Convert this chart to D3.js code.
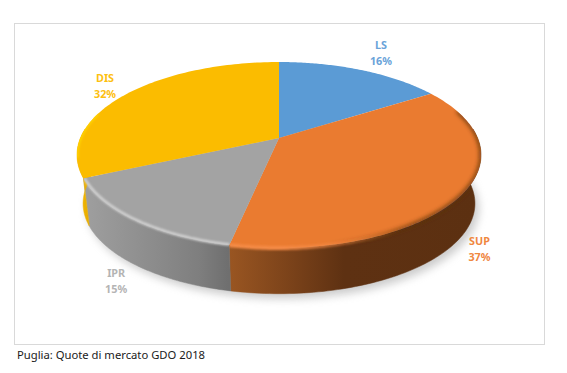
<!DOCTYPE html>
<html>
<head>
<meta charset="utf-8">
<script src="https://cdn.jsdelivr.net/npm/d3@7"></script>
<style>
  html, body { margin: 0; padding: 0; background: #fff; }
  svg { display: block; }
</style>
</head>
<body>
<div id="chart"></div>
<script>
const categories = ["LS", "SUP", "IPR", "DIS"];
const shares = [15.9, 37.4, 14.9, 31.8];
const sliceColors = ["#5b9bd5", "#ea7b30", "#a3a3a3", "#fbbc00"];
const labelColors = ["#6aa3d9", "#f0873f", "#b4b4b4", "#fdc010"];
const captionText = "Puglia: Quote di mercato GDO 2018";

const width = 567;
const height = 373;

// pie seen in perspective: the centre sits above the middle of the ellipse
const apex = { x: 279, y: 138 };
const radiusX = 198.6;
const radiusY = 89.9;
const tilt = 0.1828;
const depth = 49;
const baseScale = 0.97;

const svg = d3.select("#chart")
  .append("svg")
  .attr("width", width)
  .attr("height", height);

const color = d3.scaleOrdinal().domain(categories).range(sliceColors);
const labelColor = d3.scaleOrdinal().domain(categories).range(labelColors);

const pie = d3.pie().sort(null).value(d => d.share);
const slices = pie(categories.map((c, i) => ({ name: c, share: shares[i] })));

function topPoint(angle) {
  const x = Math.sin(angle);
  const y = -Math.cos(angle);
  const w = 1 - tilt * y;
  return [apex.x + radiusX * x / w, apex.y + radiusY * y / w];
}

function basePoint(angle) {
  const p = topPoint(angle);
  return [
    apex.x + baseScale * (p[0] - apex.x),
    apex.y + depth + baseScale * (p[1] - apex.y)
  ];
}

// points along the rim between two angles
function rim(a0, a1, fn) {
  return d3.range(0, 1.0001, 1 / 90).map(t => fn(a0 + (a1 - a0) * t));
}

const line = d3.line();
const closed = pts => line(pts) + "Z";

const defs = svg.append("defs");
const blur = (id, dev) => defs.append("filter")
  .attr("id", id)
  .attr("x", "-20%").attr("y", "-20%")
  .attr("width", "140%").attr("height", "140%")
  .append("feGaussianBlur")
  .attr("stdDeviation", dev);
blur("shadowBlur", 4);
blur("bevelBlur", 2.2);
blur("bevelSoft", 1.3);

function wallGradient(id, stops) {
  const g = defs.append("linearGradient")
    .attr("id", id)
    .attr("gradientUnits", "userSpaceOnUse")
    .attr("x1", 80).attr("x2", 480)
    .attr("y1", 0).attr("y2", 0);
  stops.forEach(s => g.append("stop")
    .attr("offset", s[0])
    .attr("stop-color", s[1])
    .attr("stop-opacity", s[2] === undefined ? 1 : s[2]));
}
wallGradient("wall-LS", [[0, "#3a6288"], [1, "#3a6288"]]);
wallGradient("wall-SUP", [[0.37, "#9a5622"], [0.52, "#7c431a"], [0.66, "#5e3112"], [1, "#5c3011"]]);
wallGradient("wall-IPR", [[0, "#a0a0a0"], [0.2, "#8a8a8a"], [0.3, "#7e7e7e"], [0.37, "#6f6f6f"]]);
wallGradient("wall-DIS", [[0, "#f2b600"], [0.03, "#e3a900"], [1, "#e3a900"]]);
// rim of the orange slice: light on the left, dark on the right
wallGradient("rim-light", [[0.5, "#f58a45", 1], [0.8, "#f58a45", 0]]);
wallGradient("rim-dark", [[0.62, "#5c3011", 0], [0.85, "#5c3011", 1]]);

// frame
svg.append("rect")
  .attr("x", 14.5).attr("y", 23.5)
  .attr("width", 530).attr("height", 321)
  .attr("fill", "#fff")
  .attr("stroke", "#d9d9d9");

const fullTurn = 2 * Math.PI;

// soft shadow under the pie
svg.append("path")
  .attr("d", closed(rim(0, fullTurn, a => {
    const p = basePoint(a);
    return [p[0] + 4, p[1] + 5];
  })))
  .attr("fill", "#9a9a9a")
  .attr("opacity", 0.5)
  .attr("filter", "url(#shadowBlur)");

// outer wall, only the part facing the viewer
const lowest = Math.PI / 2 - 0.1;
const highest = 3 * Math.PI / 2 + 0.1;
function wallOutline(d) {
  const a0 = Math.max(d.startAngle, lowest);
  const a1 = Math.min(d.endAngle, highest);
  if (a1 <= a0) return null;
  return rim(a0, a1, topPoint).concat(rim(a1, a0, basePoint));
}

slices.forEach(d => {
  const outline = wallOutline(d);
  if (!outline) return;
  svg.append("path")
    .attr("d", closed(outline))
    .attr("fill", `url(#wall-${d.data.name})`)
    .attr("stroke", `url(#wall-${d.data.name})`)
    .attr("stroke-width", 0.5);
});

// top face; the clip also takes the wall so a bevel can spill over the rim
slices.forEach((d, i) => {
  const outline = [[apex.x, apex.y]].concat(rim(d.startAngle, d.endAngle, topPoint));
  const clip = defs.append("clipPath").attr("id", "clip-" + i);
  clip.append("path").attr("d", closed(outline));
  const wall = wallOutline(d);
  if (wall) clip.append("path").attr("d", closed(wall));
  svg.append("path")
    .attr("d", closed(outline))
    .attr("fill", color(d.data.name));
});

// bevel along the rim of the top face
const bevels = [
  { cat: "IPR", stroke: "#d4d4d4", w: 2.5, filter: "bevelSoft", grow: 0.995 },
  { cat: "SUP", stroke: "url(#rim-dark)", w: 3, filter: "bevelBlur", grow: 1.0, from: 1.25 },
  { cat: "SUP", stroke: "url(#rim-light)", w: 4, filter: "bevelSoft", grow: 1.0, from: 2.2 },
  { cat: "DIS", stroke: "#ffd400", w: 3, filter: "bevelSoft", grow: 1.0, from: 4.5, to: 5.0 }
];
bevels.forEach(b => {
  const i = categories.indexOf(b.cat);
  const d = slices[i];
  const a0 = b.from === undefined ? d.startAngle : b.from;
  const a1 = b.to === undefined ? d.endAngle : b.to;
  const pts = rim(a0, a1, a => {
    const p = topPoint(a);
    return [apex.x + b.grow * (p[0] - apex.x), apex.y + b.grow * (p[1] - apex.y)];
  });
  svg.append("g")
    .attr("clip-path", `url(#clip-${i})`)
    .append("path")
    .attr("d", line(pts))
    .attr("fill", "none")
    .attr("stroke", b.stroke)
    .attr("stroke-width", b.w)
    .attr("filter", `url(#${b.filter})`);
});

// labels, placed from the rim at the middle of each slice
const labelOffsets = [[20, -21], [18, 50], [-18, 57], [-22, -12]];
const labels = svg.append("g")
  .attr("font-family", "'Noto Sans', 'Open Sans', sans-serif")
  .attr("font-size", 10.8)
  .attr("font-weight", 700)
  .attr("text-anchor", "middle");

slices.forEach((d, i) => {
  const p = topPoint((d.startAngle + d.endAngle) / 2);
  const x = p[0] + labelOffsets[i][0];
  const y = p[1] + labelOffsets[i][1];
  const g = labels.append("g").attr("fill", labelColor(d.data.name));
  g.append("text").attr("x", x).attr("y", y).text(d.data.name);
  g.append("text").attr("x", x).attr("y", y + 16).text(d3.format(".0f")(d.data.share) + "%");
});

// caption under the frame
svg.append("text")
  .attr("x", 17)
  .attr("y", 359)
  .attr("font-family", "'Noto Sans', 'Open Sans', sans-serif")
  .attr("font-size", 11.25)
  .attr("fill", "#1a1a1a")
  .text(captionText);
</script>
</body>
</html>
